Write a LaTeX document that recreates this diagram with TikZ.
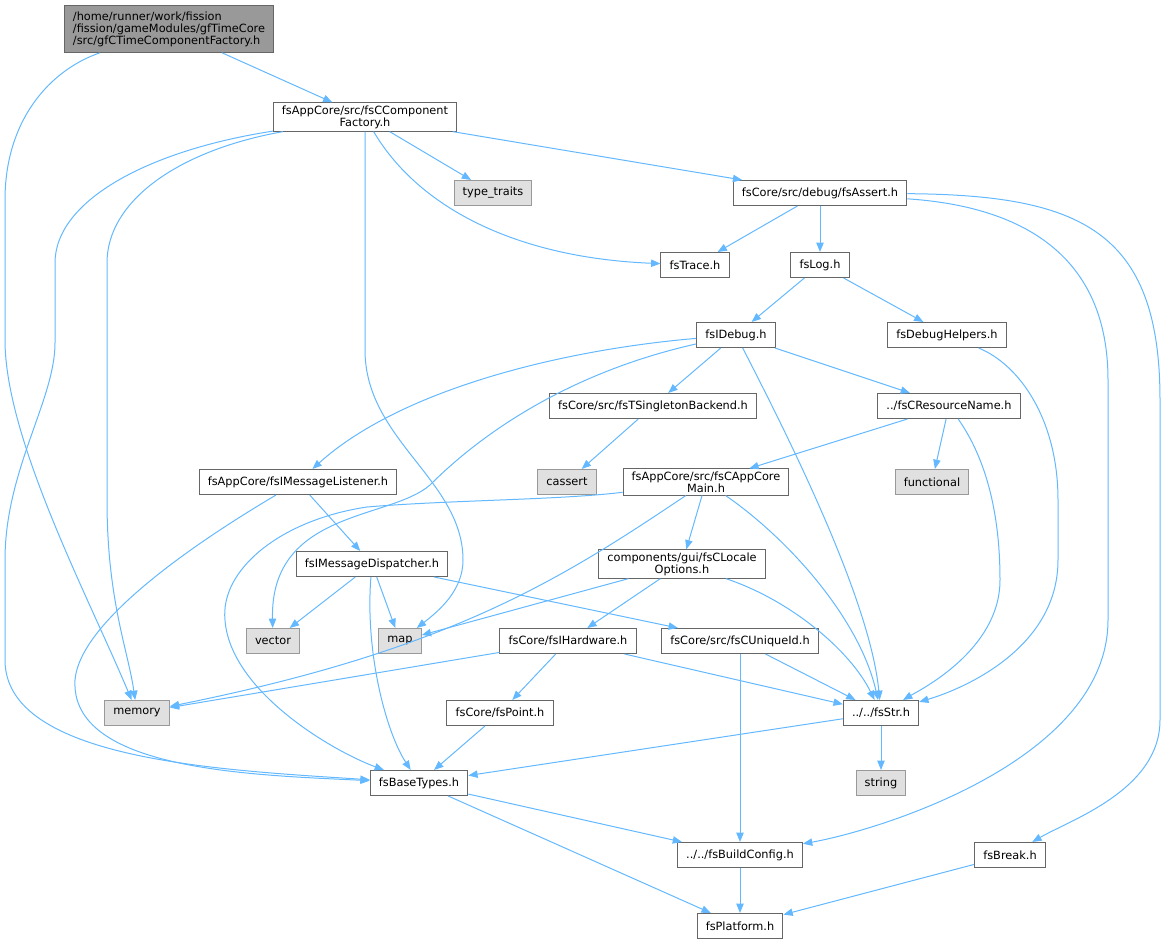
\documentclass[tikz,border=0pt]{standalone}
\usepackage{fontspec}
\setmainfont{DejaVu Sans}
\usetikzlibrary{arrows.meta}
\definecolor{edgeblue}{HTML}{63B8FF}
\definecolor{boxline}{HTML}{666666}
\definecolor{sysfill}{HTML}{E0E0E0}
\definecolor{sysline}{HTML}{999999}
\definecolor{rootfill}{HTML}{999999}
\begin{document}
\begin{tikzpicture}[x=0.75pt,y=-0.75pt,
    file/.style={draw=boxline,fill=white,line width=0.75pt,inner xsep=6.5pt,inner ysep=2pt,
      minimum height=18.75pt,font=\fontsize{8.5}{9}\selectfont,align=center},
    sys/.style={file,draw=sysline,fill=sysfill},
    dep/.style={draw=edgeblue,line width=0.75pt,-{Triangle[length=7pt,width=5.5pt]}}]
  \useasboundingbox (0,0) rectangle (1165,941);
  % files
  \node[file,fill=rootfill,align=left,minimum height=35pt] (root) at (169,29)
    {/home/runner/work/fission\\/fission/gameModules/gfTimeCore\\/src/gfCTimeComponentFactory.h};
  \node[file] (factory) at (365,117) {fsAppCore/src/fsCComponent\\Factory.h};
  \node[file] (assert) at (820,193) {fsCore/src/debug/fsAssert.h};
  \node[file] (trace) at (695,265) {fsTrace.h};
  \node[file] (log) at (820,265) {fsLog.h};
  \node[file] (idebug) at (736,335) {fsIDebug.h};
  \node[file] (dbghelpers) at (947,335) {fsDebugHelpers.h};
  \node[file] (singleton) at (653,406) {fsCore/src/fsTSingletonBackend.h};
  \node[file] (resname) at (949,406) {../fsCResourceName.h};
  \node[file] (msglistener) at (298,482) {fsAppCore/fsIMessageListener.h};
  \node[file] (appmain) at (706,482) {fsAppCore/src/fsCAppCore\\Main.h};
  \node[file] (dispatcher) at (372,564) {fsIMessageDispatcher.h};
  \node[file] (localeopts) at (682,564) {components/gui/fsCLocale\\Options.h};
  \node[file] (hardware) at (568,641) {fsCore/fsIHardware.h};
  \node[file] (uniqueid) at (740,641) {fsCore/src/fsCUniqueId.h};
  \node[file] (point) at (500,713) {fsCore/fsPoint.h};
  \node[file] (str) at (881,713) {../../fsStr.h};
  \node[file] (basetypes) at (419,783) {fsBaseTypes.h};
  \node[file] (buildcfg) at (740,855) {../../fsBuildConfig.h};
  \node[file] (break) at (1010,855) {fsBreak.h};
  \node[file] (platform) at (740,926) {fsPlatform.h};
  % system headers
  \foreach \n/\t/\x/\y in {typetraits/type\_traits/493/193, cassert/cassert/567/482,
      functional/functional/932/482, vector/vector/273/641, map/map/400/641,
      memory/memory/137/713, string/string/881/783}{
    \node[sys] (\n) at (\x,\y) {\t};
  }
  % straight includes
  \foreach \a/\b in {root/factory, factory/typetraits, factory/assert, assert/trace, assert/log,
      log/idebug, log/dbghelpers, idebug/singleton, idebug/resname, singleton/cassert,
      resname/appmain, resname/functional, msglistener/dispatcher, appmain/localeopts,
      dispatcher/vector, dispatcher/map, dispatcher/uniqueid, localeopts/map, localeopts/hardware,
      hardware/memory, hardware/point, hardware/str, uniqueid/str, uniqueid/buildcfg,
      point/basetypes, str/basetypes, str/string, basetypes/buildcfg, basetypes/platform,
      buildcfg/platform, break/platform}{
    \draw[dep] (\a) -- (\b);
  }
  % curved includes
  \draw[dep] (root) .. controls (50,70) and (5,120) .. (5,200) -- (5,340) .. controls (5,440) and (90,600) .. (memory);
  \draw[dep] (factory) .. controls (180,150) and (107,200) .. (107,263) -- (107,500) .. controls (107,600) and (128,650) .. (memory);
  \draw[dep] (factory) .. controls (150,150) and (55,200) .. (55,263) -- (55,343) .. controls (55,400) and (5,470) .. (5,560) -- (5,660) .. controls (5,760) and (220,770) .. (basetypes);
  \draw[dep] (factory) .. controls (365,250) and (365,300) .. (365,350) .. controls (365,440) and (463,480) .. (463,560) .. controls (463,590) and (440,610) .. (map);
  \draw[dep] (factory) .. controls (420,210) and (520,258) .. (trace);
  \draw[dep] (assert) .. controls (1000,205) and (1108,240) .. (1108,380) -- (1108,620) .. controls (1108,760) and (880,830) .. (buildcfg);
  \draw[dep] (assert) .. controls (1080,195) and (1160,230) .. (1160,400) -- (1160,720) .. controls (1160,790) and (1070,820) .. (break);
  \draw[dep] (dbghelpers) .. controls (1020,365) and (1058,420) .. (1058,500) -- (1058,560) .. controls (1058,650) and (960,690) .. (str);
  \draw[dep] (resname) .. controls (980,450) and (1000,500) .. (1000,580) .. controls (1000,650) and (920,690) .. (str);
  \draw[dep] (idebug) .. controls (790,440) and (870,600) .. (str);
  \draw[dep] (idebug) .. controls (560,350) and (400,390) .. (msglistener);
  \draw[dep] (idebug) .. controls (580,370) and (490,425) .. (430,485) .. controls (390,520) and (270,510) .. (vector);
  \draw[dep] (msglistener) .. controls (200,540) and (80,620) .. (75,680) .. controls (70,770) and (250,775) .. (basetypes);
  \draw[dep] (appmain) .. controls (560,500) and (450,500) .. (367,507) .. controls (280,520) and (220,570) .. (225,620) .. controls (230,690) and (330,750) .. (basetypes);
  \draw[dep] (appmain) .. controls (560,580) and (450,650) .. (memory);
  \draw[dep] (appmain) .. controls (790,540) and (860,620) .. (str);
  \draw[dep] (localeopts) .. controls (790,600) and (850,650) .. (str);
  \draw[dep] (dispatcher) .. controls (365,650) and (385,730) .. (basetypes);
\end{tikzpicture}
\end{document}
